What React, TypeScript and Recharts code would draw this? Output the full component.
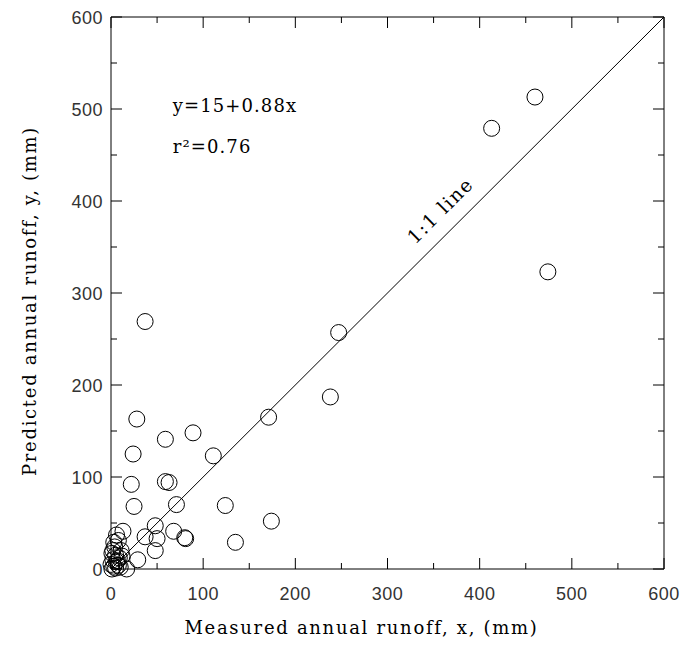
import { ScatterChart, Scatter, XAxis, YAxis, ReferenceLine, ReferenceDot } from 'recharts'

// measured (x) vs predicted (y) annual runoff, mm
const measured = [
  460, 413, 474, 247, 238, 171, 37, 28, 59, 89, 24, 111, 22, 59, 63, 25, 71, 124, 174, 135,
  48, 68, 80, 81, 37, 50, 48, 29, 17,
  13, 6, 8, 3, 4, 11, 1, 5, 9, 2, 6, 0, 3, 8, 1, 5, 10, 12, 2, 7,
]
const predicted = [
  513, 479, 323, 257, 187, 165, 269, 163, 141, 148, 125, 123, 92, 95, 94, 68, 70, 69, 52, 29,
  47, 41, 34, 33, 35, 33, 20, 10, 0,
  41, 37, 31, 29, 24, 20, 17, 15, 12, 10, 8, 5, 3, 4, 0, 1, 2, 14, 20, 9,
]
const axisTicks = [0, 50, 100, 150, 200, 250, 300, 350, 400, 450, 500, 550, 600]
const xTitle = 'Measured annual runoff, x, (mm)'
const yTitle = 'Predicted annual runoff, y, (mm)'
const fitText = 'y=15+0.88x'
const r2Text = 'r²=0.76'
const oneToOneText = '1:1  line'

const points = measured.map((x, i) => ({ x, y: predicted[i] }))

const tickFont = '"Liberation Sans", sans-serif'
const serif = '"DejaVu Serif", serif'

const tickLen = (v: number) => (v % 100 === 0 ? 11 : 6)

function BottomTick({ x, y, payload }: any) {
  const v = payload.value
  return (
    <g>
      <line x1={x} y1={y} x2={x} y2={y - tickLen(v)} stroke="#000" />
      {v % 100 === 0 && (
        <text x={x} y={y + 31} textAnchor="middle" fontFamily={tickFont} fontSize={18} fill="#333" letterSpacing={0.5}>
          {v}
        </text>
      )}
    </g>
  )
}

function TopTick({ x, y, payload }: any) {
  return <line x1={x} y1={y} x2={x} y2={y + tickLen(payload.value)} stroke="#000" />
}

function LeftTick({ x, y, payload }: any) {
  const v = payload.value
  return (
    <g>
      <line x1={x} y1={y} x2={x + tickLen(v)} y2={y} stroke="#000" />
      {v % 100 === 0 && (
        <text x={x - 8} y={y + 6.5} textAnchor="end" fontFamily={tickFont} fontSize={18} fill="#333" letterSpacing={0.5}>
          {v}
        </text>
      )}
    </g>
  )
}

function RightTick({ x, y, payload }: any) {
  return <line x1={x} y1={y} x2={x - tickLen(payload.value)} y2={y} stroke="#000" />
}

function Ring({ cx, cy }: any) {
  return <circle cx={cx} cy={cy} r={8} fill="none" stroke="#000" strokeWidth={1} />
}

// keeps the top / right frame axes alive, draws nothing
function NoMark() {
  return <g />
}

export default function App() {
  return (
    <div style={{ position: 'absolute', left: 0, top: 0 }}>
      <ScatterChart width={685} height={645} margin={{ top: 16, right: 20, bottom: 6, left: 10 }}>
        <XAxis
          dataKey="x"
          type="number"
          domain={[0, 600]}
          ticks={axisTicks}
          interval={0}
          tickSize={0}
          tickMargin={0}
          tickLine={false}
          tick={BottomTick}
          height={70}
          axisLine={{ stroke: '#000' }}
          label={{ value: xTitle, position: 'insideBottom', offset: 5, dx: -26, fontFamily: serif, fontSize: 18, fill: '#000', letterSpacing: 1.7 }}
        />
        <XAxis
          xAxisId="top"
          dataKey="x"
          orientation="top"
          type="number"
          domain={[0, 600]}
          ticks={axisTicks}
          interval={0}
          tickSize={0}
          tickMargin={0}
          tickLine={false}
          tick={TopTick}
          height={1}
          axisLine={{ stroke: '#000' }}
        />
        <YAxis
          dataKey="y"
          type="number"
          domain={[0, 600]}
          ticks={axisTicks}
          interval={0}
          tickSize={0}
          tickMargin={0}
          tickLine={false}
          tick={LeftTick}
          width={101}
          axisLine={{ stroke: '#000' }}
          label={{ value: yTitle, angle: -90, position: 'insideLeft', offset: 20, dy: 8, style: { textAnchor: 'middle' }, fontFamily: serif, fontSize: 18, fill: '#000', letterSpacing: 1.7 }}
        />
        <YAxis
          yAxisId="right"
          dataKey="y"
          orientation="right"
          type="number"
          domain={[0, 600]}
          ticks={axisTicks}
          interval={0}
          tickSize={0}
          tickMargin={0}
          tickLine={false}
          tick={RightTick}
          width={1}
          axisLine={{ stroke: '#000' }}
        />
        <ReferenceLine segment={[{ x: 0, y: 0 }, { x: 600, y: 600 }]} stroke="#000" strokeWidth={1} />
        <Scatter data={points} xAxisId="top" yAxisId="right" shape={NoMark} isAnimationActive={false} />
        <Scatter data={points} shape={Ring} isAnimationActive={false} />
        <ReferenceDot
          x={67}
          y={497}
          r={0}
          shape={(p: any) => (
            <text x={p.cx} y={p.cy} fontFamily={serif} fontSize={18} fill="#000" letterSpacing={1.1}>
              {fitText}
            </text>
          )}
        />
        <ReferenceDot
          x={67}
          y={452}
          r={0}
          shape={(p: any) => (
            <text x={p.cx} y={p.cy} fontFamily={serif} fontSize={18} fill="#000" letterSpacing={1.1}>
              {r2Text}
            </text>
          )}
        />
        <ReferenceDot
          x={357}
          y={390}
          r={0}
          shape={(p: any) => (
            <text
              x={p.cx}
              y={p.cy}
              textAnchor="middle"
              dominantBaseline="central"
              transform={`rotate(-45 ${p.cx} ${p.cy})`}
              fontFamily={serif}
              fontSize={19}
              fill="#000"
              letterSpacing={1.5}
            >
              {oneToOneText}
            </text>
          )}
        />
      </ScatterChart>
    </div>
  )
}
